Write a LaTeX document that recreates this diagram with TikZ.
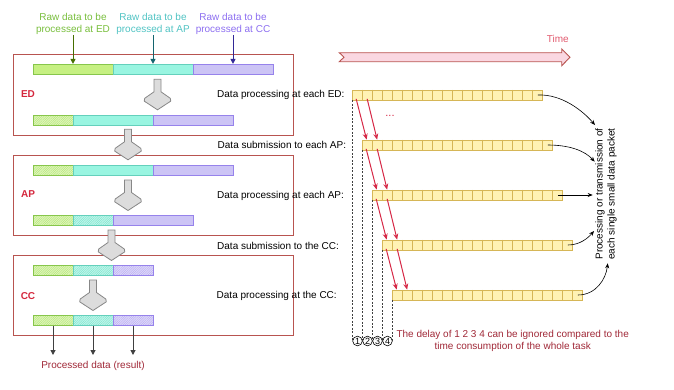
\documentclass[tikz,border=0pt]{standalone}
\usepackage{fontspec}
\setmainfont{Liberation Sans}
\usetikzlibrary{calc,arrows.meta,patterns.meta}
\definecolor{boxred}{RGB}{184,84,80}
\definecolor{lblred}{RGB}{212,38,60}
\definecolor{darkred}{RGB}{160,40,55}
\definecolor{gfill}{RGB}{198,240,130}
\definecolor{gline}{RGB}{135,198,75}
\definecolor{ghfill}{RGB}{222,247,185}
\definecolor{ghatch}{RGB}{175,225,115}
\definecolor{cfill}{RGB}{153,245,225}
\definecolor{cline}{RGB}{100,208,188}
\definecolor{chfill}{RGB}{190,248,235}
\definecolor{chatch}{RGB}{120,222,200}
\definecolor{pfill}{RGB}{204,196,245}
\definecolor{pline}{RGB}{150,130,235}
\definecolor{phfill}{RGB}{222,216,250}
\definecolor{phatch}{RGB}{180,168,240}
\definecolor{gtext}{RGB}{120,190,60}
\definecolor{ctext}{RGB}{80,195,195}
\definecolor{ptext}{RGB}{140,110,240}
\definecolor{garr}{RGB}{70,110,0}
\definecolor{carr}{RGB}{20,100,110}
\definecolor{parr}{RGB}{50,40,150}
\definecolor{cellfill}{RGB}{255,242,180}
\definecolor{cellline}{RGB}{214,182,86}
\definecolor{redarrow}{RGB}{214,40,70}
\definecolor{timefill}{RGB}{250,215,225}
\definecolor{timetext}{RGB}{225,90,110}
\definecolor{greyfill}{RGB}{220,220,220}
\definecolor{greyline}{RGB}{135,135,135}
\definecolor{outarr}{RGB}{64,64,64}
\tikzset{
  txt/.style={inner sep=0pt, font=\fontsize{10}{12}\selectfont},
  seg/.style={minimum height=10pt, inner sep=0pt, line width=0.8pt},
  gseg/.style={seg, fill=gfill, draw=gline},
  cseg/.style={seg, fill=cfill, draw=cline},
  pseg/.style={seg, fill=pfill, draw=pline},
  ghseg/.style={seg, draw=gline, preaction={fill=ghfill}, pattern={Lines[angle=45,distance=1.6pt,line width=0.35pt]}, pattern color=ghatch},
  chseg/.style={seg, draw=cline, preaction={fill=chfill}, pattern={Lines[angle=45,distance=1.6pt,line width=0.35pt]}, pattern color=chatch},
  phseg/.style={seg, draw=pline, preaction={fill=phfill}, pattern={Lines[angle=45,distance=1.6pt,line width=0.35pt]}, pattern color=phatch},
  stagebox/.style={draw=boxred, line width=0.9pt},
  greyarrow/.style={fill=greyfill, draw=greyline, line width=0.8pt, line join=miter},
  rowbox/.style={minimum width=190pt, minimum height=10pt, inner sep=0pt, fill=cellfill, draw=cellline, line width=0.7pt},
  redarr/.style={draw=redarrow, line width=1pt, -{Stealth[length=6pt,width=5pt]}},
  blkarr/.style={draw=black, line width=0.6pt, -{Stealth[length=5pt,width=4pt]}},
  outarrow/.style={draw=outarr, line width=1pt, -{Triangle[length=5pt,width=5pt]}},
  dashln/.style={draw=black!75, line width=0.5pt, dash pattern=on 2pt off 1.5pt},
  numcirc/.style={circle, draw=black, line width=0.6pt, minimum size=9.6pt, inner sep=0pt, font=\fontsize{9}{9}\selectfont},
}
\newcommand\bigdownarrow[2]{%
  \begin{scope}[shift={(#1,#2)}]
    \draw[greyarrow] (-3.5,0) -- (3.5,0) -- (3.5,12.5) -- (12.8,19) -- (13.3,21.8) -- (0,30.5) -- (-13.3,21.8) -- (-12.8,19) -- (-3.5,12.5) -- cycle;
  \end{scope}}
\begin{document}
\begin{tikzpicture}[x=1pt,y=-1pt]
\useasboundingbox (0,0) rectangle (674,389);
% stage boxes
\draw[stagebox] (13,54) rectangle (293,135);
\draw[stagebox] (13,155) rectangle (293,235);
\draw[stagebox] (13,255.7) rectangle (293,335.7);
\node[txt, text=lblred, font=\fontsize{10}{12}\selectfont\bfseries] (lED) at (28,94.5) {ED};
\node[txt, text=lblred, font=\fontsize{10}{12}\selectfont\bfseries] (lAP) at (28,194.5) {AP};
\node[txt, text=lblred, font=\fontsize{10}{12}\selectfont\bfseries] (lCC) at (28,296) {CC};
% raw labels
\node[txt, text=gtext, align=center] (rawED) at (73,24) {Raw data to be\\processed at ED};
\node[txt, text=ctext, align=center] (rawAP) at (153,24) {Raw data to be\\processed at AP};
\node[txt, text=ptext, align=center] (rawCC) at (233,24) {Raw data to be\\processed at CC};
% bars
\node[gseg, minimum width=80pt] (a1) at (73,69.3) {};
\node[cseg, minimum width=80pt] (a2) at (153,69.3) {};
\node[pseg, minimum width=80pt] (a3) at (233,69.3) {};
\node[ghseg, minimum width=40pt] (b1) at (53,120) {};
\node[cseg, minimum width=80pt] (b2) at (113,120) {};
\node[pseg, minimum width=80pt] (b3) at (193,120) {};
\node[ghseg, minimum width=40pt] (c1) at (53,170) {};
\node[cseg, minimum width=80pt] (c2) at (113,170) {};
\node[pseg, minimum width=80pt] (c3) at (193,170) {};
\node[ghseg, minimum width=40pt] (d1) at (53,220) {};
\node[chseg, minimum width=40pt] (d2) at (93,220) {};
\node[pseg, minimum width=80pt] (d3) at (153,220) {};
\node[ghseg, minimum width=40pt] (e1) at (53,270.7) {};
\node[chseg, minimum width=40pt] (e2) at (93,270.7) {};
\node[phseg, minimum width=40pt] (e3) at (133,270.7) {};
\node[ghseg, minimum width=40pt] (f1) at (53,320.7) {};
\node[chseg, minimum width=40pt] (f2) at (93,320.7) {};
\node[phseg, minimum width=40pt] (f3) at (133,320.7) {};
% raw arrows
\draw[draw=garr, line width=1pt, -{Triangle[length=5pt,width=5pt]}] (rawED.south) -- (rawED.south |- a1.north);
\draw[draw=carr, line width=1pt, -{Triangle[length=5pt,width=5pt]}] (rawAP.south) -- (rawAP.south |- a2.north);
\draw[draw=parr, line width=1pt, -{Triangle[length=5pt,width=5pt]}] (rawCC.south) -- (rawCC.south |- a3.north);
% grey arrows
\bigdownarrow{157.5}{79.3}
\bigdownarrow{128}{129.3}
\bigdownarrow{128}{180}
\bigdownarrow{111.5}{230}
\bigdownarrow{93}{280}
% result
\node[txt, text=darkred] (result) at (93,366) {Processed data (result)};
\draw[outarrow] (f1.south) -- (f1.south |- 0,355);
\draw[outarrow] (f2.south) -- (f2.south |- 0,355);
\draw[outarrow] (f3.south) -- (f3.south |- 0,355);
% step labels
\node[txt, anchor=west] (s1) at (217,95) {Data processing at each ED:};
\node[txt, anchor=west] (s2) at (217.5,145) {Data submission to each AP:};
\node[txt, anchor=west] (s3) at (217,195.5) {Data processing at each AP:};
\node[txt, anchor=west] (s4) at (217,245.5) {Data submission to the CC:};
\node[txt, anchor=west] (s5) at (216.5,296) {Data processing at the CC:};
% time arrow
\draw[fill=timefill, draw=boxred, line width=0.9pt, line join=miter] (339.3,52.7) -- (561.7,52.7) -- (561.7,49) -- (570,57.3) -- (561.7,65.7) -- (561.7,61.7) -- (339.3,61.7) -- (344,57.2) -- cycle;
\node[txt, text=timetext, anchor=east] (time) at (569,39) {Time};
% circles
\node[numcirc] (n1) at (357.5,341) {1};
\node[numcirc] (n2) at (367.5,341) {2};
\node[numcirc] (n3) at (377.5,341) {3};
\node[numcirc] (n4) at (387.5,341) {4};
% rows
\foreach \i in {1,...,5} {
  \node[rowbox] (r\i) at (437.5+10*\i, 45+50*\i) {};
  \foreach \k in {1,...,18}
    \draw[draw=cellline, line width=0.7pt] ($(r\i.north west)+(10*\k,0)$) -- ($(r\i.south west)+(10*\k,0)$);
  \draw[dashln] (r\i.south west) -- (r\i.south west |- n1.center);
}
\foreach \i/\j in {1/2,2/3,3/4,4/5} {
  \draw[redarr] ($(r\i.south west)+(4,-1.5)$) -- ($(r\j.north west)+(4.5,0)$);
  \draw[redarr] ($(r\i.south west)+(15,-1.5)$) -- ($(r\j.north west)+(15,0)$);
}
\node[txt, text=redarrow, font=\fontsize{11}{12}\selectfont] (dots) at (390,116) {...};
% note
\node[txt, text=darkred, align=center] (note) at (512.7,341) {The delay of 1 2 3 4 can be ignored compared to the\\time consumption of the whole task};
% rotated label
\node[txt, rotate=90, align=center] (proc) at (606,194) {Processing or transmission of\\each single small data packet};
\coordinate (t1) at (595,125);
\coordinate (t2) at (594.7,161.7);
\coordinate (t3) at (592.7,195);
\coordinate (t4) at (594,231);
\coordinate (t5) at (607.7,263.3);
\draw[blkarr] ($(r1.east)+(-5,0)$) .. controls (562,94) and (583,111) .. (t1);
\draw[blkarr] ($(r2.east)+(-5,0)$) .. controls (570,145) and (585,151) .. (t2);
\draw[blkarr] ($(r3.east)+(-5,0)$) -- (t3);
\draw[blkarr] ($(r4.east)+(-5,0)$) .. controls (580,245) and (588,238) .. (t4);
\draw[blkarr] ($(r5.east)+(-5,0)$) .. controls (596,295) and (606,279) .. (t5);
\end{tikzpicture}
\end{document}
